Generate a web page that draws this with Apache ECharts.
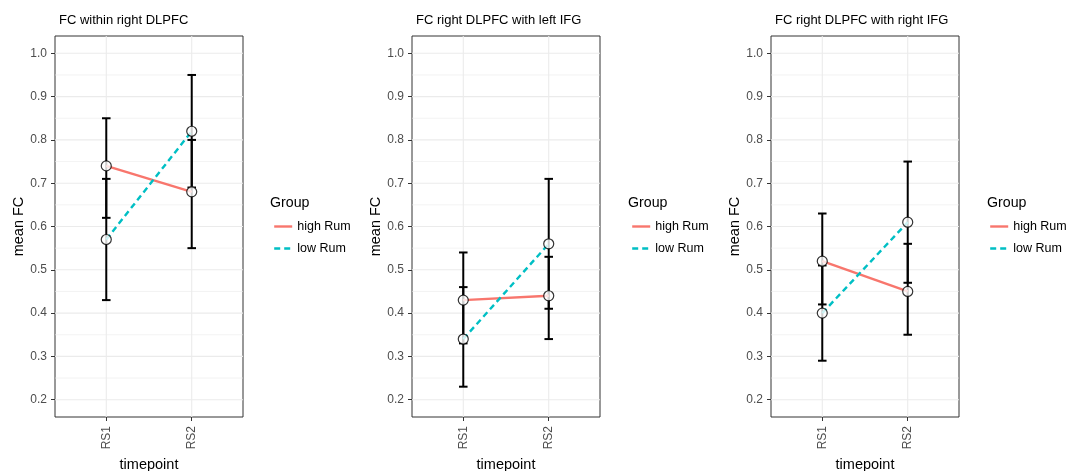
<!DOCTYPE html>
<html>
<head>
<meta charset="utf-8">
<script src="https://cdn.jsdelivr.net/npm/echarts@6/dist/echarts.min.js"></script>
<style>
  html, body { margin: 0; padding: 0; background: #fff; }
  #chart { width: 1077px; height: 471px; }
</style>
</head>
<body>
<div id="chart"></div>
<script>
// ---- data ----
const categories = ['RS1', 'RS2'];
const panelTitles = ['FC within right DLPFC', 'FC right DLPFC with left IFG', 'FC right DLPFC with right IFG'];
const groupNames = ['high Rum', 'low Rum'];
const highMean  = [[0.74, 0.68], [0.43, 0.44], [0.52, 0.45]];
const highLower = [[0.62, 0.55], [0.33, 0.34], [0.42, 0.35]];
const highUpper = [[0.85, 0.80], [0.54, 0.53], [0.63, 0.56]];
const lowMean   = [[0.57, 0.82], [0.34, 0.56], [0.40, 0.61]];
const lowLower  = [[0.43, 0.69], [0.23, 0.41], [0.29, 0.47]];
const lowUpper  = [[0.71, 0.95], [0.46, 0.71], [0.51, 0.75]];
const yTicks = [0.2, 0.3, 0.4, 0.5, 0.6, 0.7, 0.8, 0.9, 1.0];
const yMinorTicks = [0.25, 0.35, 0.45, 0.55, 0.65, 0.75, 0.85, 0.95];
const yMin = 0.16, yMax = 1.04;
const xMin = 0.4, xMax = 2.6;

// ---- layout ----
const FONT = 'Liberation Sans, Arial, sans-serif';
const gridLefts = [55, 412, 771];
const legendLefts = [268, 626, 984];
const groupTitleLefts = [265, 623, 982];
const GRID_TOP = 36, GRID_H = 381, GRID_W = 188;
const colors = { 'high Rum': '#F8766D', 'low Rum': '#00BFC4' };

const catPos = categories.map((c, i) => i + 1);

const grids = [], xAxes = [], yAxes = [], series = [], titles = [], legends = [];

function gridLineRender(params, api) {
  const cs = params.coordSys;
  const v = api.value(1);
  const y = api.coord([xMin, v])[1];
  const major = api.value(2) === 1;
  return {
    type: 'line',
    shape: { x1: cs.x, y1: y, x2: cs.x + cs.width, y2: y },
    style: { stroke: '#EBEBEB', lineWidth: major ? 1.1 : 0.6 },
    silent: true
  };
}
function vGridRender(params, api) {
  const cs = params.coordSys;
  const x = api.coord([api.value(0), yMin])[0];
  return {
    type: 'line',
    shape: { x1: x, y1: cs.y, x2: x, y2: cs.y + cs.height },
    style: { stroke: '#EBEBEB', lineWidth: 1.1 },
    silent: true
  };
}
function errRender(params, api) {
  const x = api.value(0);
  const lo = api.value(1), hi = api.value(2);
  const pLo = api.coord([x, lo]), pHi = api.coord([x, hi]);
  const cl = api.coord([x - 0.05, lo])[0], cr = api.coord([x + 0.05, lo])[0];
  const st = { stroke: '#000', lineWidth: 2 };
  return {
    type: 'group',
    children: [
      { type: 'line', shape: { x1: pLo[0], y1: pLo[1], x2: pHi[0], y2: pHi[1] }, style: st },
      { type: 'line', shape: { x1: cl, y1: pLo[1], x2: cr, y2: pLo[1] }, style: st },
      { type: 'line', shape: { x1: cl, y1: pHi[1], x2: cr, y2: pHi[1] }, style: st }
    ]
  };
}

for (let i = 0; i < 3; i++) {
  grids.push({
    left: gridLefts[i], top: GRID_TOP, width: GRID_W, height: GRID_H,
    show: true, borderColor: '#333', borderWidth: 1, backgroundColor: '#fff',
    containLabel: false, outerBoundsMode: 'none'
  });
  xAxes.push({
    type: 'value', gridIndex: i, min: xMin, max: xMax,
    splitLine: { show: false },
    axisLine: { show: false },
    axisTick: { show: true, customValues: catPos, length: 4, lineStyle: { color: '#333', width: 1 } },
    axisLabel: {
      customValues: catPos, rotate: 90, margin: 9, fontSize: 12, color: '#4D4D4D', fontFamily: FONT,
      formatter: v => categories[Math.round(v) - 1] || ''
    },
    name: 'timepoint', nameLocation: 'middle', nameGap: 40,
    nameTextStyle: { fontSize: 14.5, color: '#000', fontFamily: FONT }
  });
  yAxes.push({
    type: 'value', gridIndex: i, min: yMin, max: yMax,
    splitLine: { show: false },
    axisLine: { show: false },
    axisTick: { show: true, customValues: yTicks, length: 4, lineStyle: { color: '#333', width: 1 } },
    axisLabel: {
      customValues: yTicks, margin: 8, fontSize: 12, color: '#4D4D4D', fontFamily: FONT,
      formatter: v => v.toFixed(1)
    },
    name: 'mean FC', nameLocation: 'middle', nameRotate: 90, nameGap: 26,
    nameTextStyle: { fontSize: 14.5, color: '#000', fontFamily: FONT }
  });

  // grid lines
  series.push({
    type: 'custom', xAxisIndex: i, yAxisIndex: i, z: 0, silent: true,
    renderItem: gridLineRender,
    data: yMinorTicks.map(v => [1, v, 0]).concat(yTicks.map(v => [1, v, 1]))
  });
  series.push({
    type: 'custom', xAxisIndex: i, yAxisIndex: i, z: 0, silent: true,
    renderItem: vGridRender,
    data: catPos.map(p => [p, 0.5])
  });

  // error bars
  const errData = [];
  catPos.forEach((p, k) => {
    errData.push([p, highLower[i][k], highUpper[i][k]]);
    errData.push([p, lowLower[i][k], lowUpper[i][k]]);
  });
  series.push({
    type: 'custom', xAxisIndex: i, yAxisIndex: i, z: 2,
    renderItem: errRender, data: errData
  });

  // lines
  series.push({
    name: 'high Rum', type: 'line', xAxisIndex: i, yAxisIndex: i, z: 3,
    data: catPos.map((p, k) => [p, highMean[i][k]]),
    symbol: 'none', color: colors['high Rum'],
    lineStyle: { width: 2.4, color: colors['high Rum'], type: 'solid' }
  });
  series.push({
    name: 'low Rum', type: 'line', xAxisIndex: i, yAxisIndex: i, z: 3,
    data: catPos.map((p, k) => [p, lowMean[i][k]]),
    symbol: 'none', color: colors['low Rum'],
    lineStyle: { width: 2.4, color: colors['low Rum'], type: [6, 4] }
  });
  // points
  series.push({
    type: 'scatter', xAxisIndex: i, yAxisIndex: i, z: 4,
    symbolSize: 10,
    itemStyle: { color: '#fff', borderColor: '#000', borderWidth: 1.2 },
    data: catPos.map((p, k) => [p, highMean[i][k]]).concat(catPos.map((p, k) => [p, lowMean[i][k]]))
  });

  titles.push({
    text: panelTitles[i], left: gridLefts[i] - 1, top: 9,
    textStyle: { fontSize: 13, fontWeight: 'normal', color: '#000', fontFamily: FONT }
  });
  titles.push({
    text: 'Group', left: groupTitleLefts[i], top: 191,
    textStyle: { fontSize: 14.2, fontWeight: 'normal', color: '#000', fontFamily: FONT }
  });
  legends.push({
    left: legendLefts[i], top: 215, orient: 'vertical',
    itemWidth: 18, itemHeight: 14, itemGap: 9,
    data: groupNames, selectedMode: false,
    itemStyle: { opacity: 0 },
    lineStyle: { width: 2.4 },
    textStyle: { fontSize: 12.5, color: '#000', fontFamily: FONT }
  });
}

const chart = echarts.init(document.getElementById('chart'));
chart.setOption({
  animation: false,
  backgroundColor: '#fff',
  title: titles,
  legend: legends,
  grid: grids,
  xAxis: xAxes,
  yAxis: yAxes,
  series: series
});
</script>
</body>
</html>
